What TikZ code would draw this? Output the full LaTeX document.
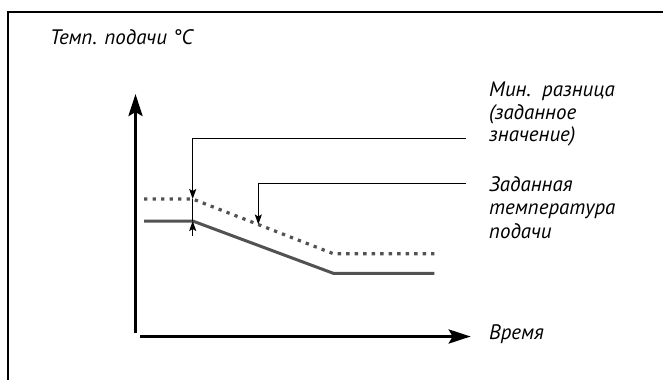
\documentclass[tikz,border=0pt]{standalone}
\usepackage{fontspec}
\setmainfont{PT Sans}
\usetikzlibrary{arrows.meta}
\newlength\titlelen
\newcommand\labfsg{20}
\newcommand\sizedtitle{%
  \settowidth\titlelen{\fontsize{20}{24}\selectfont Темп. подачи °C}%
  \pgfmathsetmacro\labfsloc{20*142.7/\titlelen}%
  \global\let\labfsg\labfsloc
  \fontsize{\labfsg}{\labfsg}\selectfont Темп. подачи °C}
\begin{document}
\begin{tikzpicture}[x=1pt,y=-1pt,
  lbl/.style={anchor=base west,inner sep=0pt,font=\itshape\fontsize{\labfsg}{\labfsg}\selectfont},
  ttl/.style={anchor=base west,inner sep=0pt,font=\itshape},
  axis/.style={line width=3.4pt,-{Stealth[length=22pt,width=14pt,inset=4pt]}},
  curve/.style={line width=3pt,color=black!68,line join=miter},
  dotcurve/.style={line width=3.2pt,color=black!68,dash pattern=on 3.3pt off 5.2pt},
  leader/.style={line width=1.2pt,-{Stealth[length=10pt,width=7pt,inset=2pt]}},
  frame/.style={line width=2pt}]
\useasboundingbox (0,0) rectangle (663,380);
% title first (sets the common label size)
\node[ttl] (title) at (50,44) {\sizedtitle};
% frame
\coordinate (fa) at (8,380);
\coordinate (fb) at (8,12);
\coordinate (fc) at (663,12);
\draw[frame] (fa) -- (fb) -- (fc);
% axes
\coordinate (yo) at (135.5,333);
\coordinate (yt) at (135.5,94);
\coordinate (xo) at (140,336.5);
\coordinate (xt) at (470.7,336.5);
\draw[axis] (yo) -- (yt);
\draw[axis] (xo) -- (xt);
% curves
\coordinate (s0) at (144,221);
\coordinate (s1) at (192.7,221);
\coordinate (s2) at (333.3,273.3);
\coordinate (s3) at (434.3,273.3);
\draw[curve] (s0) -- (s1) -- (s2) -- (s3);
\coordinate (d0) at (144,199);
\coordinate (d1) at (192.7,199);
\coordinate (d2) at (333.3,253.7);
\coordinate (d3) at (434.3,253.7);
\draw[dotcurve] (d0) -- (d1) -- (d2) -- (d3);
% leaders
\coordinate (la) at (465.7,138.3);
\coordinate (lb) at (192.7,138.3);
\coordinate (lc) at (192.7,199);
\coordinate (ld) at (192.7,221);
\coordinate (le) at (192.7,235.5);
\draw[leader] (la) -- (lb) -- (lc);
\draw[line width=1.2pt] (lc) -- (ld);
\draw[leader] (le) -- (ld);
\coordinate (ma) at (465.7,183.3);
\coordinate (mb) at (258.3,183.3);
\coordinate (mc) at (258.3,224.5);
\draw[leader] (ma) -- (mb) -- (mc);
% texts
\node[lbl] (m1) at (489,96.7) {Мин.\ \ разница};
\node[lbl] (m2) at (489,119.5) {(заданное};
\node[lbl] (m3) at (489,141.7) {значение)};
\node[lbl] (z1) at (489,191.7) {Заданная};
\node[lbl] (z2) at (489,214.8) {температура};
\node[lbl] (z3) at (489,238) {подачи};
\node[lbl] (t) at (489,339.3) {Время};
\end{tikzpicture}
\end{document}
